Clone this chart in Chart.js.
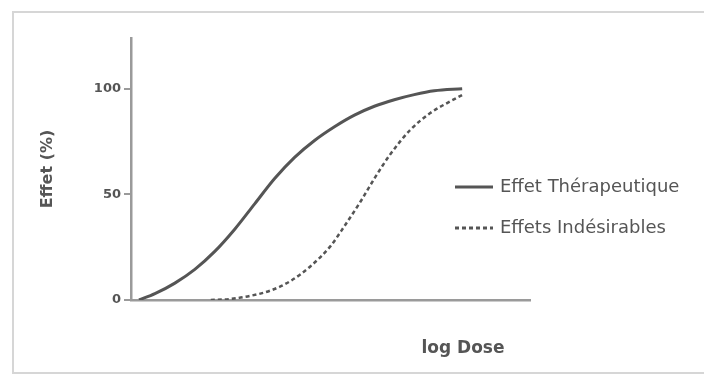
<!DOCTYPE html>
<html lang="fr">
  <head>
    <meta charset="UTF-8" />
    <title>Effet / log Dose</title>
    <script src="https://cdn.jsdelivr.net/npm/chart.js@4.4.1/dist/chart.umd.min.js"></script>
    <style>
      body { margin: 0; background: #fff; }
      #wrap { width: 704px; height: 376px; }
    </style>
  </head>
  <body>
    <div id="wrap"><canvas id="dose-chart" width="704" height="376"></canvas></div>

    <script>
      // données (log dose en unités arbitraires 0-100)
      const doseTherap = [2, 6, 11, 16, 21, 26, 31, 36, 41, 46, 51, 56, 61, 66, 71, 76, 83];
      const effetTherap = [0, 3, 8, 14.5, 23, 33.5, 45.5, 57.5, 67.5, 75.5, 82, 87.5, 91.7, 94.8, 97.2, 99, 100];
      const doseIndes = [20, 25, 30, 35, 40, 45, 50, 53.5, 57.5, 61, 65, 70, 75, 80, 83];
      const effetIndes = [0, 0.5, 2, 4.5, 9, 16, 25.5, 35, 46.5, 57.5, 69, 80.5, 88.5, 94, 97];
      const yTicks = [0, 50, 100];
      const serieLabels = ['Effet Thérapeutique', 'Effets Indésirables'];
      const xTitle = 'log Dose';
      const yTitle = 'Effet (%)';

      const gris = '#555';
      const grisAxe = '#9a9a9a';
      const police = 'DejaVu Sans';

      const toPoints = (xs, ys) => xs.map((x, i) => ({ x, y: ys[i] }));

      // cadre + légende + titre x dessinés à la main
      const decor = {
        id: 'decor',
        beforeDraw(chart) {
          const ctx = chart.ctx;
          ctx.save();
          ctx.fillStyle = '#fff';
          ctx.fillRect(0, 0, chart.width, chart.height);
          ctx.strokeStyle = '#d6d6d6';
          ctx.lineWidth = 2;
          ctx.strokeRect(13, 12, 700, 361);
          ctx.restore();
        },
        afterDraw(chart) {
          const ctx = chart.ctx;
          ctx.save();
          ctx.fillStyle = gris;
          ctx.strokeStyle = gris;
          ctx.textBaseline = 'middle';
          ctx.font = '18px "' + police + '"';
          const rows = [187, 228];
          chart.data.datasets.forEach((ds, i) => {
            ctx.lineWidth = 3;
            ctx.setLineDash(ds.borderDash || []);
            ctx.beginPath();
            ctx.moveTo(455, rows[i]);
            ctx.lineTo(493, rows[i]);
            ctx.stroke();
            ctx.setLineDash([]);
            ctx.fillText(ds.label, 500, rows[i]);
          });
          ctx.font = 'bold 17px "' + police + '"';
          ctx.textAlign = 'center';
          ctx.fillText(xTitle, 463, 349);
          ctx.restore();
        }
      };

      new Chart(document.getElementById('dose-chart'), {
        type: 'line',
        data: {
          datasets: [
            {
              label: serieLabels[0],
              data: toPoints(doseTherap, effetTherap),
              borderColor: gris,
              borderWidth: 3,
              pointRadius: 0,
              cubicInterpolationMode: 'monotone',
            },
            {
              label: serieLabels[1],
              data: toPoints(doseIndes, effetIndes),
              borderColor: gris,
              borderWidth: 2.5,
              borderDash: [4, 3],
              pointRadius: 0,
              cubicInterpolationMode: 'monotone',
            },
          ],
        },
        options: {
          responsive: false,
          animation: false,
          layout: { padding: { left: 34, top: 38, right: 174, bottom: 76 } },
          plugins: {
            legend: { display: false },
            tooltip: { enabled: false },
          },
          scales: {
            x: {
              type: 'linear',
              min: 0,
              max: 100,
              ticks: { display: false },
              grid: { display: false },
              border: { color: grisAxe, width: 2.5 },
              afterFit(scale) { scale.height = 0; },
            },
            y: {
              min: 0,
              max: 124,
              afterBuildTicks(scale) { scale.ticks = yTicks.map(v => ({ value: v })); },
              ticks: {
                color: gris,
                padding: 3,
                font: { family: police, size: 13, weight: 'bold' },
              },
              grid: { drawOnChartArea: false, drawTicks: true, tickLength: 7, color: grisAxe, lineWidth: 2 },
              border: { color: grisAxe, width: 2.5 },
              title: {
                display: true,
                text: yTitle,
                color: gris,
                font: { family: police, size: 16, weight: 'bold' },
              },
              afterFit(scale) { scale.width = 97; },
            },
          },
        },
        plugins: [decor],
      });
    </script>
  </body>
</html>
